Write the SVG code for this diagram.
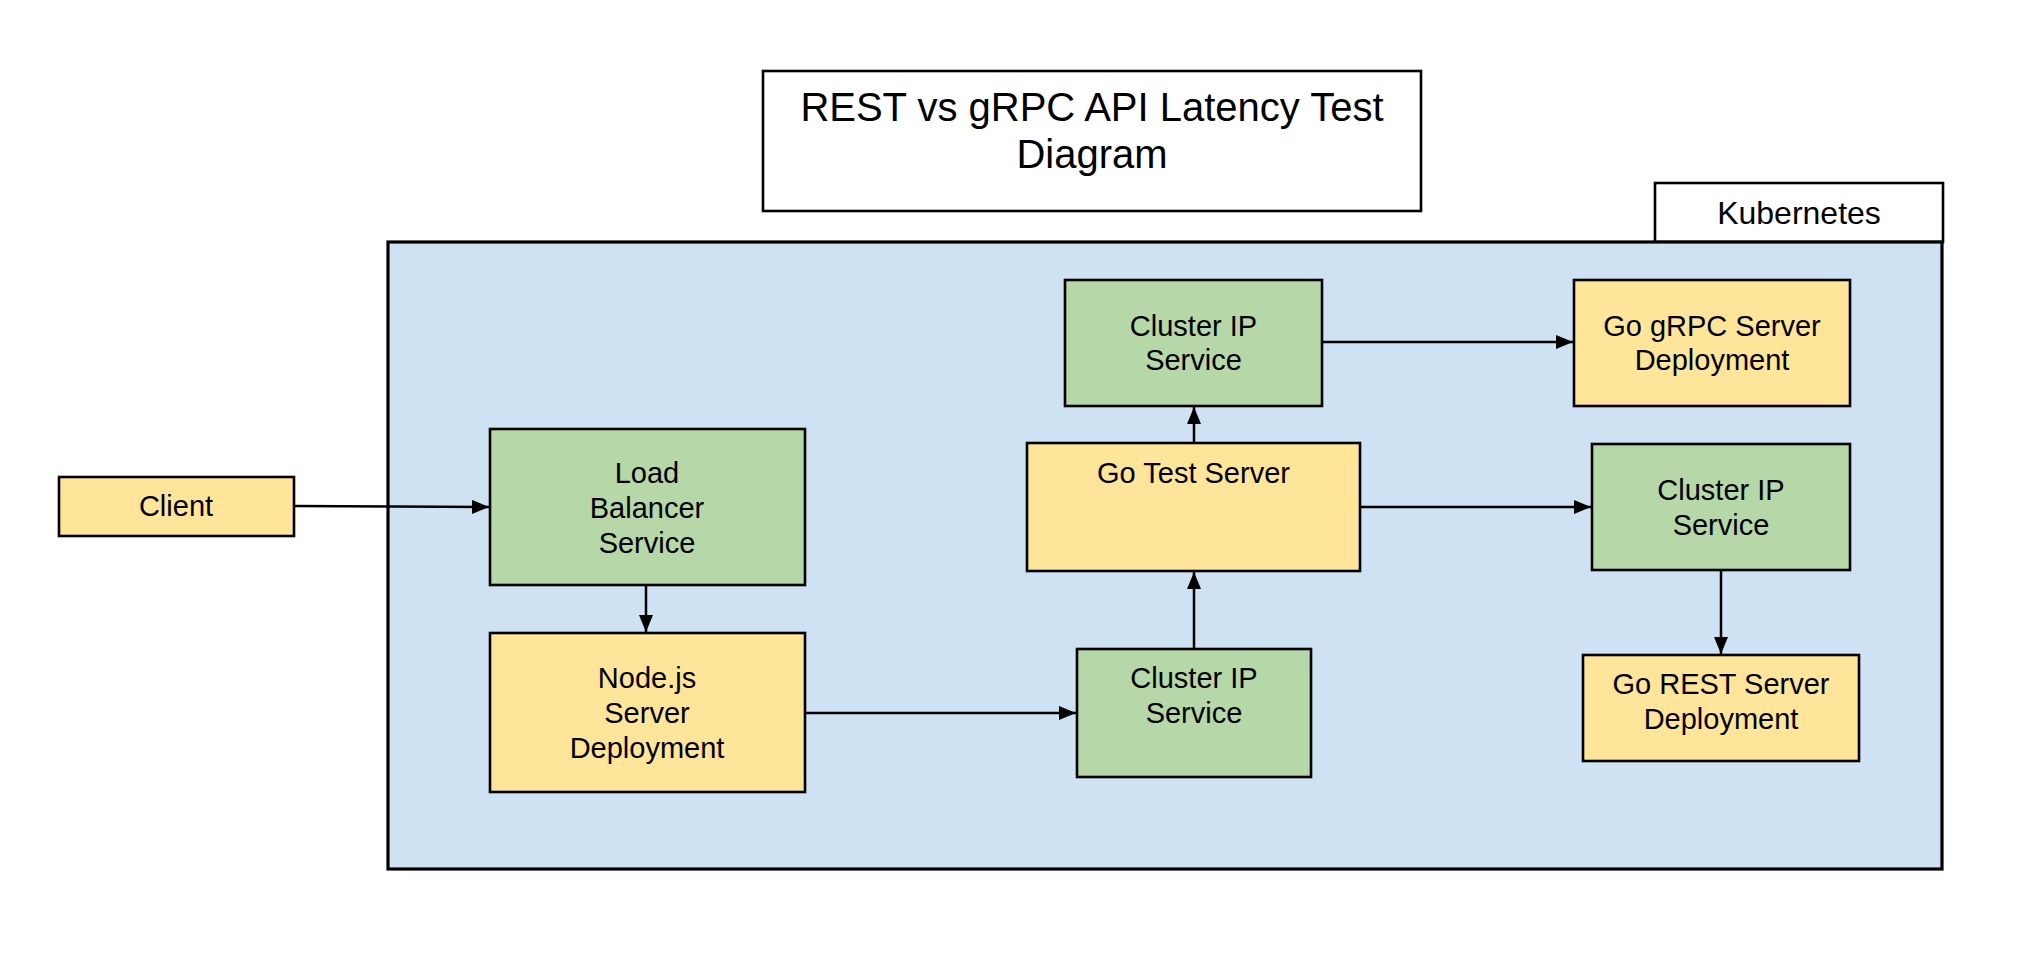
<svg xmlns="http://www.w3.org/2000/svg" width="2020" height="955" viewBox="0 0 2020 955">
<style>
  .bg { fill: #ffffff; }
  .box { stroke: #000000; stroke-width: 2.6; }
  .green { fill: #b6d7a8; }
  .yellow { fill: #ffe599; }
  .white { fill: #ffffff; }
  .k8s { fill: #cfe2f3; stroke: #000000; stroke-width: 3.2; }
  .lbl { font-family: "Liberation Sans", Arial, sans-serif; font-size: 29px; fill: #000000; text-anchor: middle; }
  .klbl { font-family: "Liberation Sans", Arial, sans-serif; font-size: 32px; fill: #000000; text-anchor: middle; }
  .title { font-family: "Liberation Sans", Arial, sans-serif; font-size: 40px; fill: #000000; text-anchor: middle; }
  .edge { fill: none; stroke: #000000; stroke-width: 2.5; marker-end: url(#arrow); }
</style>
<defs>
  <marker id="arrow" markerUnits="userSpaceOnUse" markerWidth="18" markerHeight="14" refX="17" refY="7" orient="auto">
    <path d="M0,0 L17,7 L0,14 z" fill="#000000"/>
  </marker>
</defs>
<rect class="bg" x="0" y="0" width="2020" height="955"/>

<g id="title">
  <rect class="box white" x="763" y="71" width="658" height="140"/>
  <text class="title" x="1092" y="121">REST vs gRPC API Latency Test</text>
  <text class="title" x="1092" y="168">Diagram</text>
</g>

<g id="kubernetes">
  <rect class="box white" x="1655" y="183" width="288" height="59"/>
  <text class="klbl" x="1799" y="224">Kubernetes</text>
  <rect class="k8s" x="388" y="242" width="1554" height="627"/>
</g>

<g id="client">
  <rect class="box yellow" x="59" y="477" width="235" height="59"/>
  <text class="lbl" x="176" y="516">Client</text>
</g>

<g id="load-balancer">
  <rect class="box green" x="490" y="429" width="315" height="156"/>
  <text class="lbl" x="647" y="483">Load</text>
  <text class="lbl" x="647" y="518">Balancer</text>
  <text class="lbl" x="647" y="553">Service</text>
</g>

<g id="nodejs-deployment">
  <rect class="box yellow" x="490" y="633" width="315" height="159"/>
  <text class="lbl" x="647" y="688">Node.js</text>
  <text class="lbl" x="647" y="723">Server</text>
  <text class="lbl" x="647" y="758">Deployment</text>
</g>

<g id="cluster-ip-bottom">
  <rect class="box green" x="1077" y="649" width="234" height="128"/>
  <text class="lbl" x="1194" y="688">Cluster IP</text>
  <text class="lbl" x="1194" y="723">Service</text>
</g>

<g id="go-test-server">
  <rect class="box yellow" x="1027" y="443" width="333" height="128"/>
  <text class="lbl" x="1193.5" y="483">Go Test Server</text>
</g>

<g id="cluster-ip-top">
  <rect class="box green" x="1065" y="280" width="257" height="126"/>
  <text class="lbl" x="1193.5" y="336">Cluster IP</text>
  <text class="lbl" x="1193.5" y="370">Service</text>
</g>

<g id="go-grpc-deployment">
  <rect class="box yellow" x="1574" y="280" width="276" height="126"/>
  <text class="lbl" x="1712" y="336">Go gRPC Server</text>
  <text class="lbl" x="1712" y="370">Deployment</text>
</g>

<g id="cluster-ip-right">
  <rect class="box green" x="1592" y="444" width="258" height="126"/>
  <text class="lbl" x="1721" y="500">Cluster IP</text>
  <text class="lbl" x="1721" y="535">Service</text>
</g>

<g id="go-rest-deployment">
  <rect class="box yellow" x="1583" y="655" width="276" height="106"/>
  <text class="lbl" x="1721" y="694">Go REST Server</text>
  <text class="lbl" x="1721" y="729">Deployment</text>
</g>

<g id="connectors">
  <path class="edge" d="M294,506 L489,507"/>
  <path class="edge" d="M646,585 L646,632"/>
  <path class="edge" d="M805,713 L1076,713"/>
  <path class="edge" d="M1194,649 L1194,572"/>
  <path class="edge" d="M1194,443 L1194,407"/>
  <path class="edge" d="M1322,342 L1573,342"/>
  <path class="edge" d="M1360,507 L1591,507"/>
  <path class="edge" d="M1721,570 L1721,654"/>
</g>
</svg>
